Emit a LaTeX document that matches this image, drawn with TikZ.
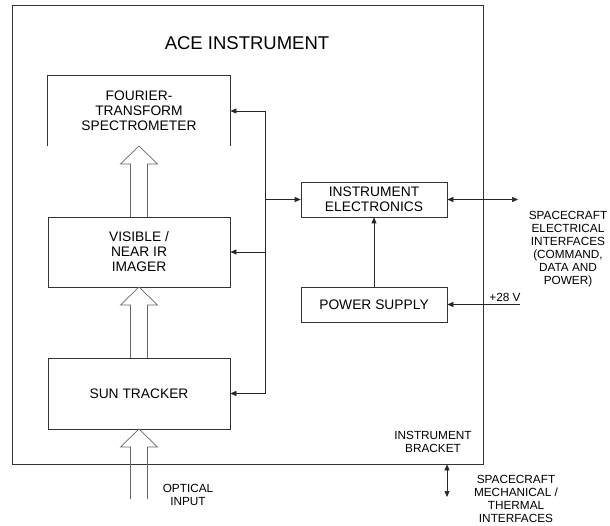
\documentclass[tikz,border=0pt]{standalone}
\usepackage{fontspec}
\setmainfont{Liberation Sans}
\usetikzlibrary{arrows.meta}

\tikzset{
  block/.style={draw=black!80, line width=0.7pt, align=center,
    font=\fontsize{13.8}{15}\selectfont, inner sep=0pt},
  note/.style={align=center, font=\fontsize{11.8}{13}\selectfont, inner sep=0pt},
  sig/.style={line width=0.7pt, draw=black!85, -{Triangle[length=6pt,width=5pt]}},
  bisig/.style={line width=0.7pt, draw=black!85,
    {Triangle[length=6pt,width=5pt]}-{Triangle[length=6pt,width=5pt]}},
  optic/.style={draw=black!60, line width=0.7pt},
}
% hollow optical arrow: centre x, tip y, bottom y
\newcommand{\optarrow}[3]{%
  \draw[optic] (#1-8.5,#3) -- (#1-8.5,#2+18) -- (#1-18.5,#2+18) -- (#1,#2)
    -- (#1+18.5,#2+18) -- (#1+8.5,#2+18) -- (#1+8.5,#3);}

\begin{document}
\begin{tikzpicture}[x=1pt,y=-1pt]
  \useasboundingbox (0,0) rectangle (610,526);

  % instrument outline
  \node[block, minimum width=471pt, minimum height=459pt] (ace) at (247.5,234.5) {};
  \node[font=\fontsize{18.5}{22}\selectfont] (title) at (247,43) {ACE INSTRUMENT};

  % optical chain
  \node[block, draw=none, minimum width=182pt, minimum height=70pt] (fts) at (139,111)
    {FOURIER-\\TRANSFORM\\SPECTROMETER};
  \draw[black!80, line width=0.7pt] (fts.south west) -- (fts.north west)
    -- (fts.north east) -- (fts.south east);
  \node[block, minimum width=182pt, minimum height=70pt] (vis) at (139,252)
    {VISIBLE /\\NEAR IR\\IMAGER};
  \node[block, minimum width=182pt, minimum height=71pt] (st) at (139,393.5)
    {SUN TRACKER};

  \optarrow{139}{146}{217}
  \optarrow{139}{287}{358}
  \optarrow{139}{429}{499}
  \node[note] (optin) at (188,494.5) {OPTICAL\\INPUT};

  % electronics
  \node[block, minimum width=146pt, minimum height=35pt] (ie) at (374,199.5)
    {INSTRUMENT\\ELECTRONICS};
  \node[block, minimum width=146pt, minimum height=35pt] (ps) at (374,304.5)
    {POWER SUPPLY};
  \draw[sig] (ps) -- (ie);

  % control bus
  \coordinate (bus) at (265,199.5);
  \draw[line width=0.7pt, black!85] (bus |- fts.east) -- (bus |- st.east);
  \draw[sig] (bus) -- (ie.west);
  \draw[sig] (bus |- fts.east) -- (fts.east);
  \draw[sig] (bus |- vis.east) -- (vis.east);
  \draw[sig] (bus |- st.east) -- (st.east);

  % spacecraft interfaces
  \coordinate (elec) at (518,199.5);
  \draw[bisig] (ie.east) -- (elec);
  \node[note] (elecl) at (568,249) {SPACECRAFT\\ELECTRICAL\\INTERFACES\\(COMMAND,\\DATA AND\\POWER)};
  \coordinate (pwr) at (520,304.5);
  \draw[sig] (pwr) -- (ps.east);
  \node[note] (volt) at (505,297.5) {+28 V};

  \node[note] (bracket) at (433,442) {INSTRUMENT\\BRACKET};
  \coordinate (mech) at (447,497);
  \draw[bisig] (mech |- ace.south) -- (mech);
  \node[note] (mechl) at (516,499) {SPACECRAFT\\MECHANICAL /\\THERMAL\\INTERFACES};
\end{tikzpicture}
\end{document}
